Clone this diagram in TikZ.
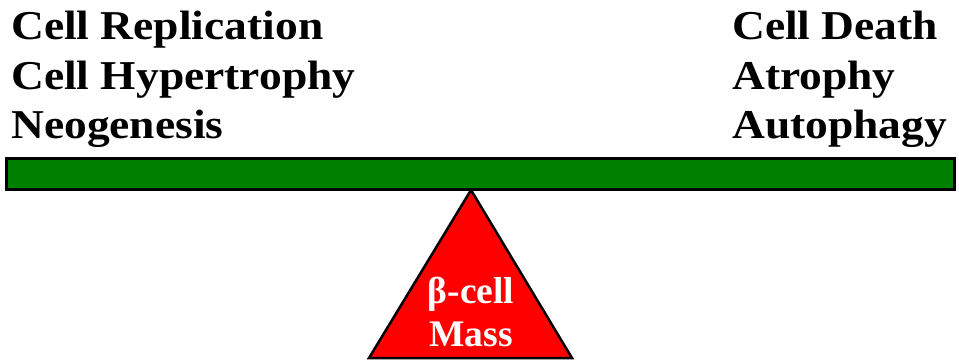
\documentclass[tikz,border=0pt]{standalone}
\usepackage{fontspec}
\setmainfont{Liberation Serif}
\newfontfamily\widefont{Liberation Serif}[FakeStretch=1.11]
\definecolor{Beam}{RGB}{0,128,0}
\definecolor{Pivot}{RGB}{255,0,0}
\usetikzlibrary{positioning}

\begin{document}
\begin{tikzpicture}[x=1pt,y=-1pt,
    factor/.style={font=\widefont\fontsize{41}{48}\selectfont\bfseries,inner sep=0pt,anchor=base west},
    masslabel/.style={font=\fontsize{37.5}{42}\selectfont\bfseries,text=white,inner sep=0pt,anchor=base}]
  \useasboundingbox (0,0) rectangle (959,362);
  % beam and pivot
  \draw[line width=3pt,fill=Beam] (6,158) rectangle (954,189);
  \draw[line width=2.5pt,fill=Pivot,line join=miter] (471,190) -- (572,358) -- (369,358) -- cycle;
  \node[masslabel] (beta) at (471,303) {β-cell};
  \node[masslabel] (mass) at (471,346) {Mass};
  % gain side
  \node[factor] (repl) at (11,39) {Cell Replication};
  \node[factor] (hyper) at (11,89) {Cell Hypertrophy};
  \node[factor] (neo) at (11,138.5) {Neogenesis};
  % loss side
  \node[factor] (death) at (732,39) {Cell Death};
  \node[factor] (atro) at (732,89) {Atrophy};
  \node[factor] (auto) at (732,138.5) {Autophagy};
\end{tikzpicture}
\end{document}
